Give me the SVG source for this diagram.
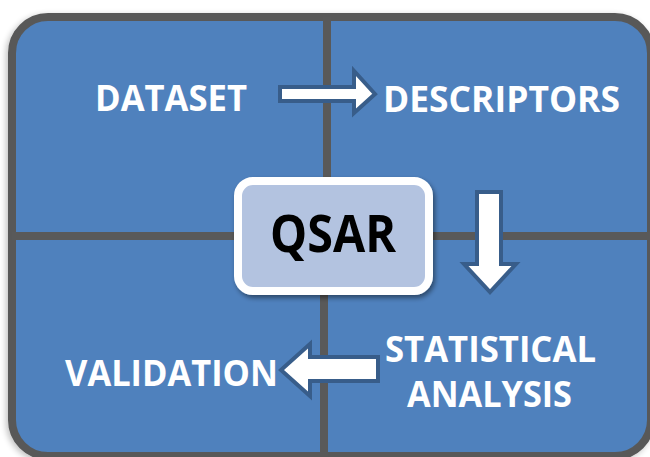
<svg xmlns="http://www.w3.org/2000/svg" width="650" height="457" viewBox="0 0 650 457">
  <defs>
    <filter id="frameShadow" x="-5%" y="-5%" width="110%" height="110%">
      <feGaussianBlur in="SourceAlpha" stdDeviation="3"/>
      <feOffset dx="-2" dy="2" result="b"/>
      <feComponentTransfer><feFuncA type="linear" slope="0.25"/></feComponentTransfer>
      <feMerge><feMergeNode/><feMergeNode in="SourceGraphic"/></feMerge>
    </filter>
    <filter id="boxShadow" x="-10%" y="-10%" width="125%" height="130%">
      <feGaussianBlur in="SourceAlpha" stdDeviation="2.5"/>
      <feOffset dx="2" dy="3" result="b"/>
      <feComponentTransfer><feFuncA type="linear" slope="0.45"/></feComponentTransfer>
      <feMerge><feMergeNode/><feMergeNode in="SourceGraphic"/></feMerge>
    </filter>
    <style>
      .lbl { font-family: "Open Sans", "Liberation Sans", sans-serif; font-weight: 700; font-size: 35.5px; fill: #ffffff; }
      .divider { stroke: #595959; stroke-width: 8; fill: none; }
      .arrow { fill: #ffffff; stroke: #385d8a; stroke-width: 4; stroke-linejoin: miter; }
    </style>
  </defs>

  <rect width="650" height="457" fill="#ffffff"/>

  <g id="frame" filter="url(#frameShadow)">
    <rect x="12" y="17" width="639" height="439" rx="36" ry="36" fill="#4f81bd" stroke="#595959" stroke-width="8"/>
  </g>

  <g id="dividers">
    <line class="divider" x1="327" y1="17" x2="327" y2="236"/>
    <line class="divider" x1="324" y1="236" x2="324" y2="456"/>
    <line class="divider" x1="12" y1="236" x2="651" y2="236"/>
  </g>

  <g id="node-dataset">
    <text class="lbl" x="95" y="111" textLength="152" lengthAdjust="spacingAndGlyphs">DATASET</text>
  </g>
  <g id="node-descriptors">
    <text class="lbl" x="383" y="112" textLength="237" lengthAdjust="spacingAndGlyphs">DESCRIPTORS</text>
  </g>
  <g id="node-statistical">
    <text class="lbl" x="385" y="362" textLength="211" lengthAdjust="spacingAndGlyphs">STATISTICAL</text>
    <text class="lbl" x="407" y="407" textLength="165" lengthAdjust="spacingAndGlyphs">ANALYSIS</text>
  </g>
  <g id="node-validation">
    <text class="lbl" x="65" y="386" textLength="213" lengthAdjust="spacingAndGlyphs">VALIDATION</text>
  </g>

  <g id="connectors">
    <path class="arrow" d="M280,87 L354,87 L354,71 L375,94 L354,113 L354,101 L280,101 Z"/>
    <path class="arrow" d="M477,192 L501,192 L501,264 L516,264 L490,292 L464,264 L477,264 Z"/>
    <path class="arrow" d="M378,357 L310,357 L310,344 L281,370 L310,396 L310,381 L378,381 Z"/>
  </g>

  <g id="node-qsar" filter="url(#boxShadow)">
    <rect x="238" y="181" width="191" height="110" rx="15" ry="15" fill="#b3c3e0" stroke="#ffffff" stroke-width="8"/>
    <text x="333" y="252" text-anchor="middle" font-family="'Open Sans', 'Liberation Sans', sans-serif" font-weight="700" font-size="52" fill="#000000" textLength="126" lengthAdjust="spacingAndGlyphs">QSAR</text>
  </g>
</svg>
